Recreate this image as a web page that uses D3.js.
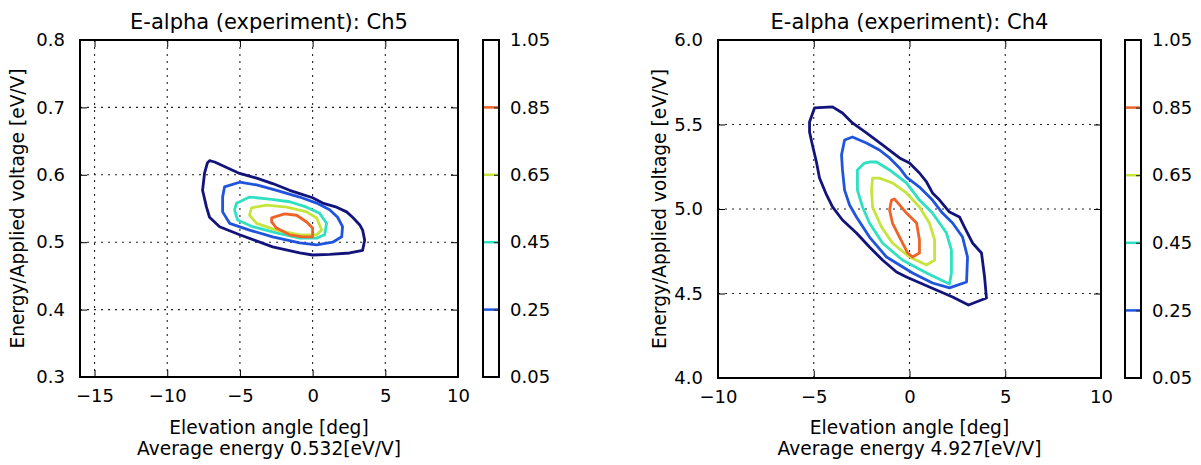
<!DOCTYPE html>
<html lang="en">
<head>
<meta charset="UTF-8">
<title>E-alpha contours</title>
<script src="https://d3js.org/d3.v7.min.js"></script>
<style>
    body { margin: 0; background: #fff; }
    svg text { font-family: "DejaVu Sans", sans-serif; fill: #000; }
</style>
</head>
<body>
<div id="chart"></div>
<script>
// contour levels and colorbar ticks
const levels = [0.05, 0.25, 0.45, 0.65, 0.85];
const cbTicks = [0.05, 0.25, 0.45, 0.65, 0.85, 1.05];

// Ch5 panel
const ch5XTicks = [-15, -10, -5, 0, 5, 10];
const ch5YTicks = [0.3, 0.4, 0.5, 0.6, 0.7, 0.8];
const ch5Level05 = [[-7.09,0.621],[-6.74,0.619],[-5.02,0.602],[-3.85,0.595],[-2.75,0.587],[-1.58,0.577],[-0.89,0.572],[0,0.566],[0.69,0.558],[1.65,0.552],[2.34,0.545],[2.75,0.537],[3.23,0.526],[3.44,0.518],[3.58,0.503],[3.44,0.488],[2.55,0.484],[1.17,0.482],[0,0.481],[-0.89,0.484],[-2.75,0.493],[-5.02,0.511],[-6.4,0.523],[-7.09,0.537],[-7.3,0.552],[-7.57,0.577],[-7.43,0.603],[-7.23,0.618]];
const ch5Level25 = [[-6.06,0.582],[-5.02,0.589],[-3.85,0.585],[-2.48,0.577],[-0.89,0.567],[0.28,0.558],[1.17,0.548],[1.72,0.537],[2.06,0.523],[2.0,0.508],[1.38,0.5],[0.28,0.496],[-0.89,0.499],[-2.75,0.508],[-4.34,0.518],[-5.71,0.528],[-6.19,0.545],[-6.19,0.567]];
const ch5Level45 = [[-5.02,0.56],[-4.34,0.567],[-2.96,0.564],[-1.58,0.56],[-0.41,0.552],[0.48,0.543],[0.96,0.528],[0.83,0.511],[0.28,0.506],[-0.89,0.506],[-2.48,0.514],[-4.13,0.523],[-5.16,0.533],[-5.37,0.548],[-5.23,0.558]];
const ch5Level65 = [[-4.2,0.551],[-3.17,0.555],[-1.79,0.552],[-0.41,0.545],[0.28,0.536],[0.62,0.518],[0.28,0.511],[-0.89,0.511],[-2.48,0.518],[-3.85,0.528],[-4.34,0.54]];
const ch5Level85 = [[-2.82,0.536],[-1.93,0.542],[-1.1,0.54],[-0.41,0.53],[0,0.521],[0,0.508],[-0.69,0.508],[-1.58,0.511],[-2.48,0.521],[-2.82,0.53]];

// Ch4 panel
const ch4XTicks = [-10, -5, 0, 5, 10];
const ch4YTicks = [4.0, 4.5, 5.0, 5.5, 6.0];
const ch4Level05 = [[-4.96,5.598],[-4.02,5.604],[-3.5,5.568],[-2.98,5.509],[-2.25,5.45],[-1.41,5.379],[-0.52,5.302],[0,5.272],[0.52,5.213],[0.89,5.16],[1.2,5.095],[1.57,5.053],[2.09,4.982],[2.61,4.953],[2.87,4.893],[3.29,4.799],[3.76,4.74],[3.92,4.598],[4.02,4.473],[3.08,4.432],[2.25,4.479],[1.04,4.538],[-0.16,4.598],[-0.68,4.627],[-1.41,4.698],[-2.09,4.775],[-2.77,4.858],[-3.5,4.935],[-4.02,5.012],[-4.33,5.083],[-4.7,5.183],[-4.86,5.278],[-5.07,5.379],[-5.22,5.456],[-5.22,5.515]];
const ch4Level25 = [[-3.39,5.408],[-2.98,5.426],[-2.25,5.391],[-1.57,5.349],[-1.04,5.302],[-0.52,5.243],[-0.16,5.189],[0.52,5.13],[1.2,5.053],[1.72,4.976],[2.25,4.917],[2.77,4.834],[3.03,4.716],[2.98,4.568],[2.09,4.533],[1.2,4.562],[0.16,4.621],[-1.2,4.716],[-2.09,4.834],[-2.77,4.953],[-3.13,5.024],[-3.39,5.112],[-3.5,5.231],[-3.55,5.32]];
const ch4Level45 = [[-2.09,5.278],[-1.72,5.278],[-1.04,5.231],[-0.16,5.154],[0.52,5.053],[1.2,4.976],[1.93,4.858],[2.19,4.757],[2.19,4.621],[2.09,4.556],[0.89,4.621],[-0.37,4.698],[-1.41,4.799],[-2.09,4.917],[-2.45,5.012],[-2.72,5.112],[-2.72,5.231],[-2.35,5.272]];
const ch4Level65 = [[-1.93,5.183],[-1.57,5.183],[-0.89,5.154],[-0.16,5.095],[0.52,5.012],[1.04,4.917],[1.31,4.817],[1.31,4.698],[0.89,4.669],[0,4.716],[-0.89,4.799],[-1.46,4.893],[-1.93,5.012],[-1.98,5.112]];
const ch4Level85 = [[-0.78,5.059],[-0.52,5.024],[-0.16,4.976],[0.37,4.917],[0.52,4.817],[0.52,4.74],[0.16,4.716],[-0.1,4.74],[-0.52,4.834],[-0.89,4.917],[-1.04,4.994],[-0.94,5.053]];

const titles = ["E-alpha (experiment): Ch5", "E-alpha (experiment): Ch4"];
const avgEnergy = ["0.532", "4.927"];

// jet-like colours for the 5 levels
const levelColors = ["#13137c", "#1f54dc", "#2fe0c2", "#c6e53c", "#ef6328"];

const width = 1201, height = 465;
const svg = d3.select("#chart").append("svg")
    .attr("width", width)
    .attr("height", height);

const fmtMinus = d => d < 0 ? "\u2212" + Math.abs(d) : String(d);

function drawPanel(p) {
    const x = d3.scaleLinear().domain(p.xDomain).range([p.left, p.right]);
    const y = d3.scaleLinear().domain(p.yDomain).range([p.bottom, p.top]);
    const g = svg.append("g");

    // grid
    g.append("g").selectAll("line")
        .data(p.xTicks.filter(d => d > p.xDomain[0] && d < p.xDomain[1]))
        .enter().append("line")
        .attr("x1", d => x(d)).attr("x2", d => x(d))
        .attr("y1", p.top).attr("y2", p.bottom)
        .attr("stroke", "#222").attr("stroke-width", 1.1)
        .attr("stroke-dasharray", "2,5");
    g.append("g").selectAll("line")
        .data(p.yTicks.filter(d => d > p.yDomain[0] && d < p.yDomain[1]))
        .enter().append("line")
        .attr("x1", p.left).attr("x2", p.right)
        .attr("y1", d => y(d)).attr("y2", d => y(d))
        .attr("stroke", "#222").attr("stroke-width", 1.1)
        .attr("stroke-dasharray", "2,5");

    // contours
    const line = d3.line().x(d => x(d[0])).y(d => y(d[1])).curve(d3.curveLinearClosed);
    g.append("g").selectAll("path")
        .data(p.contours)
        .enter().append("path")
        .attr("d", d => line(d))
        .attr("fill", "none")
        .attr("stroke", (d, i) => levelColors[i])
        .attr("stroke-width", 2.8)
        .attr("stroke-linejoin", "round");

    // axes with inward ticks on all sides
    const tick = 7;
    g.append("g")
        .attr("transform", "translate(0," + p.bottom + ")")
        .call(d3.axisBottom(x).tickValues(p.xTicks).tickSizeInner(-tick).tickSizeOuter(0).tickPadding(12).tickFormat(fmtMinus));
    g.append("g")
        .attr("transform", "translate(0," + p.top + ")")
        .call(d3.axisTop(x).tickValues(p.xTicks).tickSizeInner(-tick).tickSizeOuter(0).tickFormat(""));
    g.append("g")
        .attr("transform", "translate(" + p.left + ",0)")
        .call(d3.axisLeft(y).tickValues(p.yTicks).tickSizeInner(-tick).tickSizeOuter(0).tickPadding(15).tickFormat(d3.format(".1f")));
    g.append("g")
        .attr("transform", "translate(" + p.right + ",0)")
        .call(d3.axisRight(y).tickValues(p.yTicks).tickSizeInner(-tick).tickSizeOuter(0).tickFormat(""));
    g.selectAll(".domain").remove();
    g.selectAll(".tick line").attr("stroke", "#000").attr("stroke-width", 1);
    g.selectAll(".tick text").style("font-size", "18px").style("font-family", "DejaVu Sans");

    g.append("rect")
        .attr("x", p.left).attr("y", p.top)
        .attr("width", p.right - p.left).attr("height", p.bottom - p.top)
        .attr("fill", "none").attr("stroke", "#000").attr("stroke-width", 2);

    // titles and labels
    const cx = (p.left + p.right) / 2;
    g.append("text").attr("x", cx).attr("y", 29)
        .attr("text-anchor", "middle").style("font-size", "21px")
        .text(p.title);
    g.append("text").attr("x", cx).attr("y", 434)
        .attr("text-anchor", "middle").style("font-size", "18.6px")
        .text("Elevation angle [deg]");
    g.append("text").attr("x", cx).attr("y", 455)
        .attr("text-anchor", "middle").style("font-size", "18.6px")
        .text("Average energy " + p.avg + "[eV/V]");
    g.append("text")
        .attr("transform", "translate(" + p.ylabelX + "," + ((p.top + p.bottom) / 2) + ") rotate(-90)")
        .attr("text-anchor", "middle").style("font-size", "18.6px")
        .text("Energy/Applied voltage [eV/V]");

    // colorbar
    const cy = d3.scaleLinear().domain([0.05, 1.05]).range([p.bottom, p.top]);
    const cb = g.append("g");
    cb.selectAll("line.lvl")
        .data(levels.slice(1))
        .enter().append("line")
        .attr("class", "lvl")
        .attr("x1", p.cbX).attr("x2", p.cbX + p.cbW)
        .attr("y1", d => cy(d)).attr("y2", d => cy(d))
        .attr("stroke", (d, i) => levelColors[i + 1])
        .attr("stroke-width", 2.5);
    cb.append("g")
        .attr("transform", "translate(" + (p.cbX + p.cbW) + ",0)")
        .call(d3.axisRight(cy).tickValues(cbTicks).tickSizeInner(-5).tickSizeOuter(0).tickPadding(11).tickFormat(d3.format(".2f")));
    cb.selectAll(".domain").remove();
    cb.selectAll(".tick line").attr("stroke", "#222").attr("stroke-width", 1);
    cb.selectAll(".tick text").style("font-size", "18px").style("font-family", "DejaVu Sans");
    cb.append("rect")
        .attr("x", p.cbX).attr("y", p.top)
        .attr("width", p.cbW).attr("height", p.bottom - p.top)
        .attr("fill", "none").attr("stroke", "#000").attr("stroke-width", 2);
}

drawPanel({
    left: 80, right: 458, top: 40, bottom: 377,
    xDomain: [-16, 10], yDomain: [0.3, 0.8],
    xTicks: ch5XTicks, yTicks: ch5YTicks,
    contours: [ch5Level05, ch5Level25, ch5Level45, ch5Level65, ch5Level85],
    title: titles[0], avg: avgEnergy[0],
    ylabelX: 24, cbX: 483, cbW: 16
});
drawPanel({
    left: 718, right: 1101, top: 40, bottom: 378,
    xDomain: [-10, 10], yDomain: [4, 6],
    xTicks: ch4XTicks, yTicks: ch4YTicks,
    contours: [ch4Level05, ch4Level25, ch4Level45, ch4Level65, ch4Level85],
    title: titles[1], avg: avgEnergy[1],
    ylabelX: 666, cbX: 1125, cbW: 16
});
</script>
</body>
</html>
